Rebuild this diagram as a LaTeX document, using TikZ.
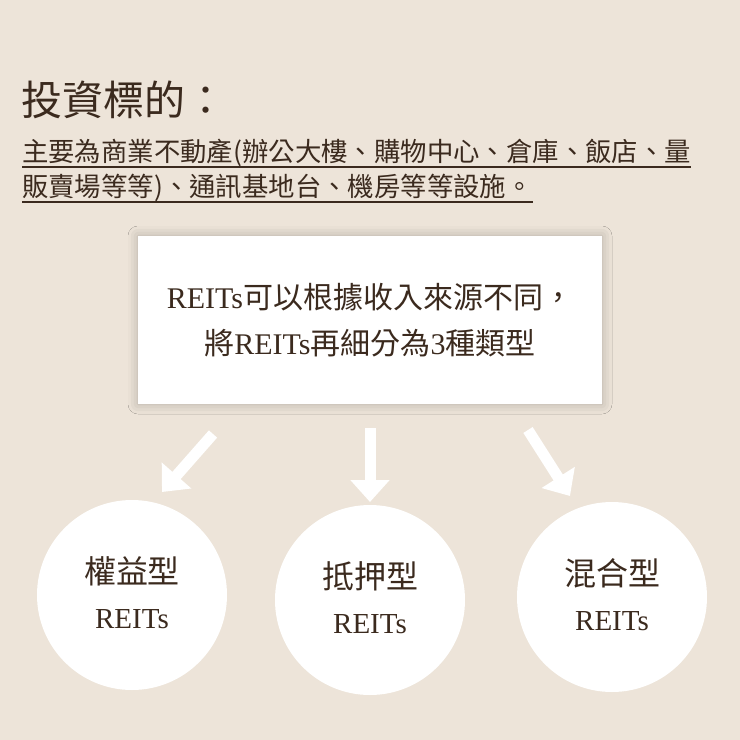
\documentclass[tikz,border=0pt]{standalone}
\usepackage{fontspec}
\setmainfont{Noto Sans CJK TC}
\newfontfamily\latin{Liberation Serif}
\usetikzlibrary{shadows.blur,arrows.meta}
\definecolor{bg}{HTML}{EDE4D9}
\definecolor{ink}{HTML}{3B2A1E}
\begin{document}
\begin{tikzpicture}[x=1pt,y=-1pt,
  txt/.style={text=ink,inner sep=0},
  circ/.style={circle,fill=white,minimum size=190pt,inner sep=0},
  warrow/.style={white,line width=11pt,-{Triangle[length=22pt,width=38pt]}}]
\fill[bg] (0,0) rectangle (740,740);
\useasboundingbox (0,0) rectangle (740,740);
\node[txt,anchor=west,font=\fontsize{41}{44}\selectfont] (title) at (21,100) {投資標的：};
\node[txt,anchor=base west,font=\fontsize{26.4}{28}\selectfont] (l1) at (22,161) {主要為商業不動產(辦公大樓、購物中心、倉庫、飯店、量};
\node[txt,anchor=base west,font=\fontsize{26.4}{28}\selectfont] (l2) at (22,196) {販賣場等等)、通訊基地台、機房等等設施。};
\draw[ink,line width=1.3pt] (22,167) -- (l1.base east |- 0,167);
\draw[ink,line width=1.3pt] (22,202) -- (l2.base east |- 0,202);
\node[fill=white,minimum width=464pt,minimum height=168pt,
  blur shadow={shadow xshift=0pt,shadow yshift=0pt,shadow blur radius=10pt,shadow opacity=25}] (box) at (370,320) {};
\node[txt,align=center,font=\fontsize{30}{46}\selectfont] (bt) at (370,320)
  {{\latin REITs}可以根據收入來源不同，\\將{\latin REITs}再細分為{\latin 3}種類型};
\node[circ] (c1) at (132,595) {};
\node[circ] (c2) at (370,600) {};
\node[circ] (c3) at (612,597) {};
\foreach \c/\t in {c1/權益型,c2/抵押型,c3/混合型}{
  \node[txt,font=\fontsize{32}{34}\selectfont] at ([yshift=24pt]\c.center) {\t};
  \node[txt,font=\latin\fontsize{29}{32}\selectfont] at ([yshift=-24pt]\c.center) {REITs};
}
\coordinate (a1s) at (213,434); \coordinate (a1e) at (162,492);
\coordinate (a2s) at (370,428); \coordinate (a2e) at (370,502);
\coordinate (a3s) at (528,430); \coordinate (a3e) at (570,496);
\draw[warrow] (a1s) -- (a1e);
\draw[warrow] (a2s) -- (a2e);
\draw[warrow] (a3s) -- (a3e);
\end{tikzpicture}
\end{document}
